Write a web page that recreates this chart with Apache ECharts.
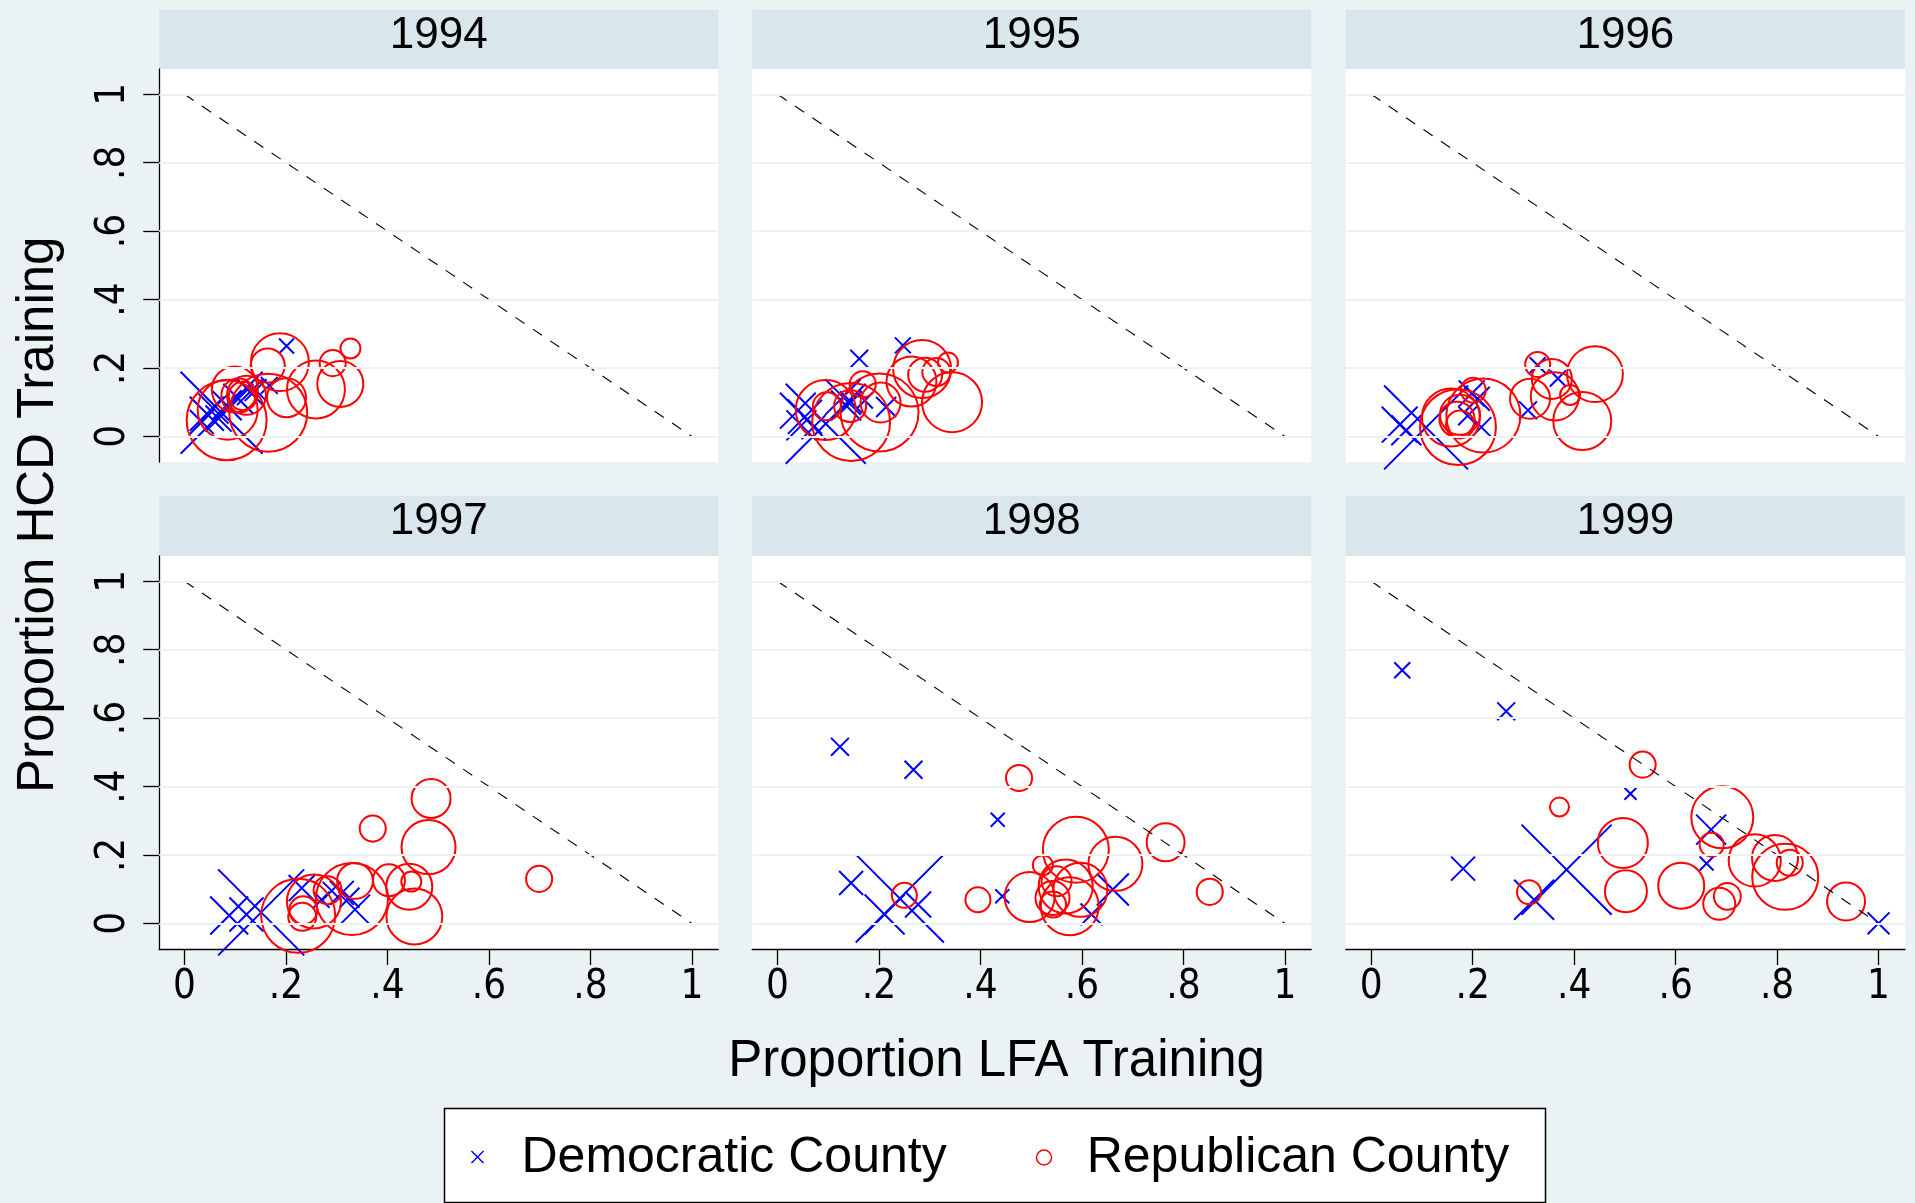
<!DOCTYPE html>
<html><head><meta charset="utf-8">
<script src="https://cdn.jsdelivr.net/npm/echarts@6/dist/echarts.min.js"></script>
<style>html,body{margin:0;padding:0;background:#EAF2F3}#c{width:1915px;height:1203px}</style>
</head><body><div id="c"></div><script>
// ---------------- data: [LFA proportion, HCD proportion, county weight] ----------------
const years = ['1994', '1995', '1996', '1997', '1998', '1999'];
const xTicks = [0, 0.2, 0.4, 0.6, 0.8, 1];
const yTicks = [0, 0.2, 0.4, 0.6, 0.8, 1];
const tickLabels = ['0', '.2', '.4', '.6', '.8', '1'];
const seriesNames = ['Democratic County', 'Republican County'];
const xTitle = 'Proportion LFA Training';
const yTitle = 'Proportion HCD Training';

const dem1994 = [[0.073,0.069,16.8],[0.034,0.042,1.44],[0.044,0.066,2.9],[0.057,0.081,2.25],[0.067,0.052,1.7],[0.083,0.091,2.25],[0.106,0.110,2.25],[0.129,0.130,1.7],[0.140,0.135,1.2],[0.167,0.149,0.72],[0.201,0.264,0.56]];
const rep1994 = [[0.083,0.047,16],[0.085,0.078,9],[0.099,0.137,5.3],[0.106,0.119,2.9],[0.122,0.120,3.8],[0.115,0.118,2],[0.165,0.069,15.2],[0.201,0.113,3.8],[0.188,0.217,8.4],[0.164,0.207,2.9],[0.259,0.137,8.4],[0.307,0.153,5.3],[0.292,0.214,1.7],[0.327,0.257,1]];

const dem1995 = [[0.095,0.037,16],[0.054,0.057,2.9],[0.047,0.032,2.25],[0.040,0.075,3.2],[0.071,0.027,1.44],[0.129,0.115,3.2],[0.135,0.090,2.25],[0.145,0.100,1.2],[0.172,0.105,0.64],[0.214,0.086,1],[0.161,0.227,0.8],[0.247,0.266,0.64]];
const rep1995 = [[0.095,0.077,9],[0.145,0.042,15.2],[0.097,0.088,1.96],[0.143,0.089,2.56],[0.168,0.152,1.7],[0.201,0.070,15.2],[0.203,0.099,4],[0.264,0.160,6.25],[0.285,0.197,8.4],[0.291,0.180,2.9],[0.313,0.188,1.96],[0.336,0.216,1],[0.344,0.100,9]];

const dem1996 = [[0.108,0.026,17.6],[0.056,0.034,3.2],[0.069,0.018,2.25],[0.198,0.125,1.7],[0.210,0.110,1.44],[0.217,0.027,1],[0.190,0.060,0.9],[0.309,0.076,0.8],[0.328,0.208,0.64],[0.368,0.169,0.64]];
const rep1996 = [[0.171,0.027,14.4],[0.157,0.055,8.4],[0.221,0.061,13.7],[0.169,0.050,3.1],[0.175,0.035,1.96],[0.175,0.063,4],[0.201,0.135,1.56],[0.313,0.110,4],[0.328,0.210,1.56],[0.356,0.168,4],[0.362,0.117,5.8],[0.392,0.121,1],[0.441,0.182,7.8],[0.416,0.045,8.4]];

const dem1997 = [[0.151,0.032,18.5],[0.088,0.023,3.6],[0.122,0.026,2.9],[0.231,0.103,1.7],[0.310,0.089,1.44],[0.336,0.040,2.25],[0.270,0.069,0.64],[0.290,0.095,0.8],[0.325,0.075,1]];
const rep1997 = [[0.224,0.022,13.7],[0.234,0.038,1.96],[0.232,0.019,1.96],[0.255,0.064,7.3],[0.282,0.097,1.96],[0.330,0.071,13],[0.336,0.124,3.2],[0.403,0.126,2.56],[0.443,0.107,5.3],[0.447,0.122,1],[0.453,0.020,7.8],[0.481,0.223,7.3],[0.486,0.365,3.8],[0.371,0.277,1.7],[0.699,0.130,1.7]];

const dem1998 = [[0.241,0.073,19.4],[0.145,0.118,1.44],[0.211,0.026,4],[0.277,0.055,1.7],[0.443,0.079,0.49],[0.619,0.026,1.2],[0.661,0.099,2.56],[0.123,0.516,0.8],[0.268,0.449,0.8],[0.434,0.303,0.49]];
const rep1998 = [[0.250,0.082,1.56],[0.395,0.069,1.56],[0.497,0.077,6.25],[0.523,0.170,1],[0.588,0.215,10.9],[0.666,0.174,7.3],[0.568,0.108,7.3],[0.597,0.098,7.3],[0.576,0.050,8.4],[0.550,0.123,2.25],[0.542,0.074,2.9],[0.543,0.055,1.7],[0.476,0.425,1.7],[0.765,0.237,3.6],[0.852,0.092,1.7]];

const dem1999 = [[0.061,0.740,0.64],[0.266,0.620,0.8],[0.511,0.379,0.36],[0.181,0.160,1.44],[0.385,0.157,20.3],[0.321,0.069,4],[0.670,0.274,2.25],[0.661,0.175,0.49],[1.0,0.0,1.2]];
const rep1999 = [[0.535,0.464,1.7],[0.371,0.340,0.9],[0.692,0.310,9.6],[0.671,0.230,1.44],[0.496,0.235,6.25],[0.502,0.094,4.4],[0.611,0.110,5.3],[0.311,0.091,1.44],[0.686,0.057,2.56],[0.702,0.079,1.8],[0.756,0.184,6.8],[0.796,0.191,5.3],[0.816,0.136,10.9],[0.825,0.177,1.7],[0.936,0.064,3.6]];

const diagonal = [[0, 1], [1, 0]];

const demByYear = [dem1994, dem1995, dem1996, dem1997, dem1998, dem1999];
const repByYear = [rep1994, rep1995, rep1996, rep1997, rep1998, rep1999];

// ---------------- layout & style ----------------
const FONT = "'Liberation Sans', Arial, Helvetica, sans-serif";
const NARROW = "'Liberation Sans Narrow', 'Arial Narrow', 'DejaVu Sans Condensed', 'Liberation Sans', sans-serif";
const BLUE = '#0000FF', RED = '#FF0000';
const colLeft = [159.2, 752.2, 1345.9];
const rowTop = [69, 556];
const headTop = [9.8, 496];
const gridW = 559, gridH = 393;
const X_PATH = 'path://M0,0L10,10M10,0L0,10';
const sz = v => 20 * Math.sqrt(v[2]);
const fmt = v => tickLabels[Math.round(v * 5)];

const grids = [], xAxes = [], yAxes = [], series = [], graphics = [];
years.forEach((yr, i) => {
  const r = Math.floor(i / 3), c = i % 3;
  const left = colLeft[c], top = rowTop[r];
  grids.push({left, top, width: gridW, height: gridH, backgroundColor: '#fff', show: true, borderWidth: 0});
  const bottomRow = r === 1, leftCol = c === 0;
  xAxes.push({
    gridIndex: i, type: 'value', min: -0.05, max: 1.052,
    axisLine: {show: bottomRow, onZero: false, lineStyle: {color: '#000', width: 1.3}},
    axisTick: {show: bottomRow, length: 16, customValues: xTicks, lineStyle: {color: '#000', width: 1.3}},
    axisLabel: {show: bottomRow, customValues: xTicks, formatter: fmt, fontSize: 40, color: '#000', fontFamily: NARROW, margin: 19},
    splitLine: {show: false}
  });
  yAxes.push({
    gridIndex: i, type: 'value', min: -0.075, max: 1.074,
    axisLine: {show: leftCol, onZero: false, lineStyle: {color: '#000', width: 1.3}},
    axisTick: {show: leftCol, length: 16, customValues: yTicks, lineStyle: {color: '#000', width: 1.3}},
    axisLabel: {show: leftCol, customValues: yTicks, formatter: fmt, rotate: 90, fontSize: 40, color: '#000', fontFamily: NARROW, margin: 26},
    splitLine: {show: false}
  });
  series.push({
    type: 'line', xAxisIndex: i, yAxisIndex: i, data: [], silent: true, z: 1,
    markLine: {silent: true, symbol: ['none', 'none'], label: {show: false}, animation: false,
      lineStyle: {color: '#EAF2F3', width: 2, type: 'solid'}, emphasis: {disabled: true},
      data: yTicks.map(v => ({yAxis: v}))}
  });
  series.push({
    name: seriesNames[0], type: 'scatter', xAxisIndex: i, yAxisIndex: i, data: demByYear[i], z: 2,
    symbol: X_PATH, symbolSize: sz, silent: true,
    itemStyle: {color: 'transparent', borderColor: BLUE, borderWidth: 2, opacity: 1}
  });
  series.push({
    name: seriesNames[1], type: 'scatter', xAxisIndex: i, yAxisIndex: i, data: repByYear[i], z: 3,
    symbol: 'circle', symbolSize: sz, silent: true,
    itemStyle: {color: 'transparent', borderColor: RED, borderWidth: 2, opacity: 1}
  });
  series.push({
    type: 'line', xAxisIndex: i, yAxisIndex: i, data: diagonal, z: 4, silent: true,
    symbol: 'none', lineStyle: {color: '#000', width: 1.1, type: [11, 10]}
  });
  // header strip
  graphics.push({type: 'rect', shape: {x: left, y: headTop[r], width: gridW, height: top - headTop[r]},
    style: {fill: '#D9E6EB'}, silent: true});
  graphics.push({type: 'text', x: left + gridW / 2, y: headTop[r] + 26,
    style: {text: yr, fontSize: 44, fontFamily: FONT, fill: '#000', align: 'center', verticalAlign: 'middle'}, silent: true});
});

// axis titles
graphics.push({type: 'text', x: 996.6, y: 1061.5, style: {text: xTitle, fontSize: 51, fontFamily: FONT, fill: '#000', align: 'center', verticalAlign: 'middle'}});
graphics.push({type: 'text', x: 38.5, y: 514.8, rotation: Math.PI / 2, style: {text: yTitle, fontSize: 51, fontFamily: FONT, fill: '#000', align: 'center', verticalAlign: 'middle'}});

// legend
graphics.push({type: 'rect', shape: {x: 444.5, y: 1108.5, width: 1101, height: 94}, style: {fill: '#fff', stroke: '#000', lineWidth: 1.5}});
graphics.push({type: 'polyline', shape: {points: [[471.5, 1151], [483.5, 1163]]}, style: {stroke: BLUE, lineWidth: 1.5}});
graphics.push({type: 'polyline', shape: {points: [[483.5, 1151], [471.5, 1163]]}, style: {stroke: BLUE, lineWidth: 1.5}});
graphics.push({type: 'text', x: 521.5, y: 1158.5, style: {text: seriesNames[0], fontSize: 50, fontFamily: FONT, fill: '#000', align: 'left', verticalAlign: 'middle'}});
graphics.push({type: 'circle', shape: {cx: 1044, cy: 1157.5, r: 7.5}, style: {fill: 'none', stroke: RED, lineWidth: 1.5}});
graphics.push({type: 'text', x: 1086.7, y: 1158.5, style: {text: seriesNames[1], fontSize: 50, fontFamily: FONT, fill: '#000', align: 'left', verticalAlign: 'middle'}});

const chart = echarts.init(document.getElementById('c'), null, {renderer: 'canvas'});
chart.setOption({
  backgroundColor: '#EAF2F3',
  animation: false,
  grid: grids, xAxis: xAxes, yAxis: yAxes, series,
  graphic: graphics
});
</script></body></html>
